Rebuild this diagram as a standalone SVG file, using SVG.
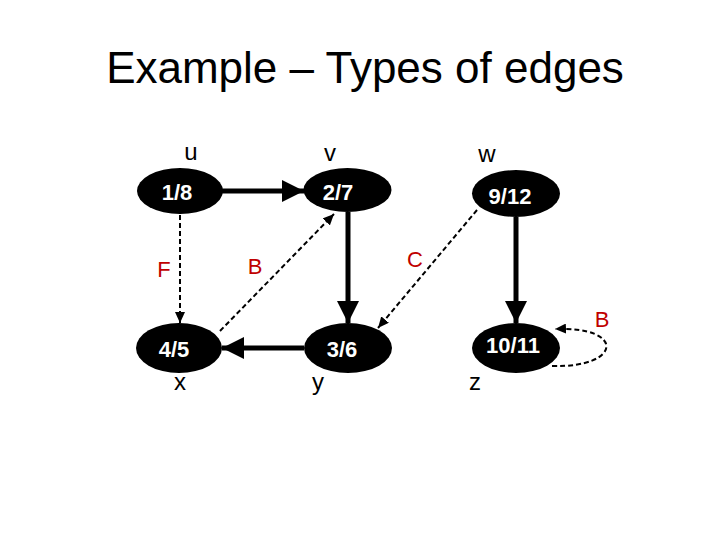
<svg xmlns="http://www.w3.org/2000/svg" width="720" height="540" viewBox="0 0 720 540">
<style>
.title{font-family:"Liberation Sans",Arial,sans-serif;font-size:44px;fill:#000}
.nl{font-family:"Liberation Sans",Arial,sans-serif;font-size:22px;font-weight:bold;fill:#fff;text-anchor:middle}
.lbl{font-family:"Liberation Sans",Arial,sans-serif;font-size:24px;fill:#000;text-anchor:middle}
.red{font-family:"Liberation Sans",Arial,sans-serif;font-size:22px;fill:#c00000;text-anchor:middle}
.node{fill:#000}
.tree{stroke:#000;stroke-width:5;fill:none}
.dash{stroke:#000;stroke-width:2;fill:none;stroke-dasharray:5 3}
</style>
<defs>
<marker id="big" markerUnits="userSpaceOnUse" markerWidth="22" markerHeight="22" refX="22" refY="11" orient="auto">
<path d="M0,0 L22,11 L0,22 Z" fill="#000"/>
</marker>
<marker id="small" markerUnits="userSpaceOnUse" markerWidth="11" markerHeight="10" refX="11" refY="5" orient="auto">
<path d="M0,0 L11,5 L0,10 Z" fill="#000"/>
</marker>
</defs>
<rect width="720" height="540" fill="#fff"/>
<text class="title" x="365" y="83" text-anchor="middle">Example – Types of edges</text>
<g id="connectors">
<line class="tree" x1="222" y1="191" x2="304" y2="191" marker-end="url(#big)"/>
<line class="tree" x1="348" y1="212" x2="348" y2="323" marker-end="url(#big)"/>
<line class="tree" x1="516" y1="217" x2="516" y2="323" marker-end="url(#big)"/>
<line class="tree" x1="304" y1="348" x2="222" y2="348" marker-end="url(#big)"/>
<line class="dash" x1="180" y1="215" x2="180" y2="323" marker-end="url(#small)"/>
<line class="dash" x1="220" y1="331" x2="334" y2="214" marker-end="url(#small)"/>
<line class="dash" x1="477" y1="210" x2="378" y2="328" marker-end="url(#small)"/>
<path class="dash" d="M552,366 C622,368 626,326 555,329" marker-end="url(#small)"/>
<text class="red" x="164" y="277">F</text>
<text class="red" x="255" y="274">B</text>
<text class="red" x="415" y="267">C</text>
<text class="red" x="602" y="327">B</text>
</g>
<g id="u">
<ellipse class="node" cx="180" cy="191" rx="43" ry="23"/>
<text class="nl" x="177" y="200">1/8</text>
<text class="lbl" x="191" y="160">u</text>
</g>
<g id="v">
<ellipse class="node" cx="347.5" cy="190" rx="44" ry="22"/>
<text class="nl" x="338" y="200">2/7</text>
<text class="lbl" x="330" y="161">v</text>
</g>
<g id="w">
<ellipse class="node" cx="516" cy="193.5" rx="44" ry="23.5"/>
<text class="nl" x="510" y="204">9/12</text>
<text class="lbl" x="487" y="162">w</text>
</g>
<g id="x">
<ellipse class="node" cx="179" cy="348" rx="43" ry="25"/>
<text class="nl" x="174" y="357">4/5</text>
<text class="lbl" x="180" y="390">x</text>
</g>
<g id="y">
<ellipse class="node" cx="348" cy="348" rx="44" ry="25"/>
<text class="nl" x="342" y="357">3/6</text>
<text class="lbl" x="318" y="390">y</text>
</g>
<g id="z">
<ellipse class="node" cx="516" cy="348" rx="44" ry="25"/>
<text class="nl" x="513" y="353">10/11</text>
<text class="lbl" x="475" y="390">z</text>
</g>
</svg>
